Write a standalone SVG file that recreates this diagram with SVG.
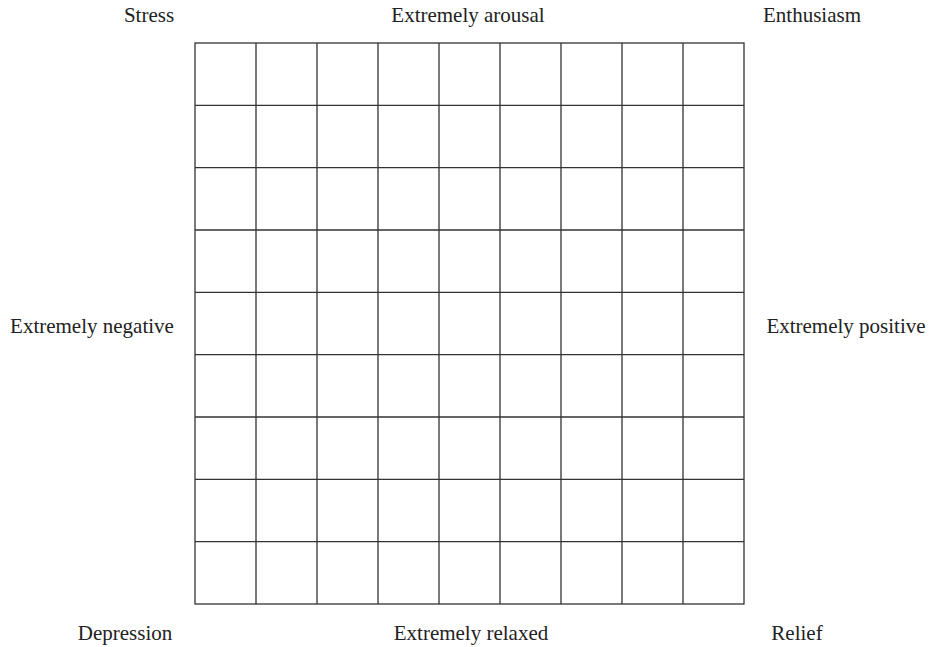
<svg xmlns="http://www.w3.org/2000/svg" width="929" height="647" viewBox="0 0 929 647">
<style>
.l{font-family:"Liberation Serif","Times New Roman",serif;font-size:21px;fill:#222;text-anchor:middle}
.g{stroke:#333;stroke-width:1.3;fill:none}
</style>
<rect width="929" height="647" fill="#fff"/>
<g id="grid" class="g">
<rect x="195" y="43" width="549" height="561"/>
<path d="M256 43V604M317 43V604M378 43V604M439 43V604M500 43V604M561 43V604M622 43V604M683 43V604"/>
<path d="M195 105.3H744M195 167.7H744M195 230H744M195 292.3H744M195 354.7H744M195 417H744M195 479.3H744M195 541.7H744"/>
</g>
<g id="labels">
<text class="l" x="149" y="22">Stress</text>
<text class="l" x="468" y="22">Extremely arousal</text>
<text class="l" x="812" y="22">Enthusiasm</text>
<text class="l" x="92" y="333">Extremely negative</text>
<text class="l" x="846" y="333">Extremely positive</text>
<text class="l" x="125" y="640">Depression</text>
<text class="l" x="471" y="640">Extremely relaxed</text>
<text class="l" x="797" y="640">Relief</text>
</g>
</svg>
